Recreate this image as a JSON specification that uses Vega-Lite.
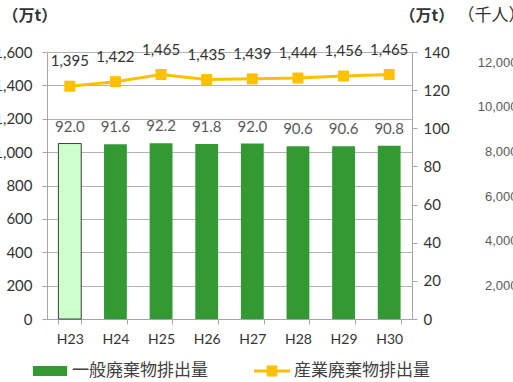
{
  "$schema": "https://vega.github.io/schema/vega-lite/v6.json",
  "autosize": "none",
  "width": 365,
  "height": 267,
  "padding": {"left": 47, "top": 52, "right": 101, "bottom": 63},
  "background": "white",
  "config": {
    "view": {"stroke": null},
    "font": "Lato",
    "axis": {"labelFont": "Lato", "labelColor": "#333333", "labelFontSize": 14, "domainColor": "#a6a6a6", "tickColor": "#a6a6a6", "gridColor": "#b3b3b3", "titleFont": "Noto Sans CJK JP", "titleFontSize": 16, "titleFontWeight": "bold", "titleColor": "#333333"}
  },
  "data": {
    "values": [
      {"year": "H23", "general": 92.0, "industrial": 1395},
      {"year": "H24", "general": 91.6, "industrial": 1422},
      {"year": "H25", "general": 92.2, "industrial": 1465},
      {"year": "H26", "general": 91.8, "industrial": 1435},
      {"year": "H27", "general": 92.0, "industrial": 1439},
      {"year": "H28", "general": 90.6, "industrial": 1444},
      {"year": "H29", "general": 90.6, "industrial": 1456},
      {"year": "H30", "general": 90.8, "industrial": 1465}
    ]
  },
  "encoding": {
    "x": {
      "field": "year", "type": "nominal", "sort": null,
      "scale": {"paddingInner": 0.5, "paddingOuter": 0.25},
      "axis": {"title": null, "labelAngle": 0, "tickBand": "extent", "tickSize": 5, "labelPadding": 8, "domainColor": "#a6a6a6"}
    }
  },
  "layer": [
    {
      "encoding": {
        "y": {
          "field": "general", "type": "quantitative",
          "scale": {"domain": [0, 140], "nice": false},
          "axis": {"orient": "right", "values": [0, 20, 40, 60, 80, 100, 120, 140], "grid": false, "tickSize": 5, "labelPadding": 6, "labelFontSize": 15, "title": "（万t）", "titleAngle": 0, "titleX": -13, "titleY": -37, "titleAlign": "left", "titleBaseline": "middle"}
        }
      },
      "layer": [
        {
          "mark": {"type": "bar"},
          "encoding": {
            "color": {"datum": "一般廃棄物排出量", "type": "nominal",
              "scale": {"domain": ["一般廃棄物排出量", "産業廃棄物排出量"], "range": ["#339933", "#ffc000"]},
              "legend": {
                "title": null, "orient": "none", "legendX": -6, "legendY": 310, "direction": "horizontal",
                "symbolSize": 324, "labelOffset": 13, "columnPadding": 46,
                "labelFont": "Noto Sans CJK JP", "labelFontSize": 17, "labelColor": "#404040",
                "symbolStrokeWidth": 0,
                "encode": {
                  "symbols": {"update": {
                    "shape": {"signal": "datum.value === '一般廃棄物排出量' ? 'M-1.9,-0.55H1.9V0.55H-1.9Z' : 'M-2,-0.17H2V0.17H-2Z M-0.6,-0.6H0.6V0.6H-0.6Z'"},
                    "fill": {"signal": "datum.value === '一般廃棄物排出量' ? '#339933' : '#ffc000'"},
                    "opacity": {"value": 1},
                    "strokeWidth": {"value": 0}
                  }}
                }
              }
            }
          }
        },
        {
          "transform": [{"filter": "datum.year === 'H23'"}],
          "mark": {"type": "bar", "fill": "#ccffcc", "stroke": "#404040", "strokeWidth": 1}
        },
        {
          "mark": {"type": "text", "dy": -17, "fontSize": 15, "color": "#595959", "font": "Lato"},
          "encoding": {"text": {"field": "general", "type": "quantitative", "format": ".1f"}}
        }
      ]
    },
    {
      "encoding": {
        "y": {
          "field": "industrial", "type": "quantitative",
          "scale": {"domain": [0, 1600], "nice": false},
          "axis": {"orient": "left", "values": [0, 200, 400, 600, 800, 1000, 1200, 1400, 1600], "format": ",.0f", "grid": true, "tickSize": 5, "labelPadding": 10, "labelFontSize": 15, "title": "（万t）", "titleAngle": 0, "titleX": -45, "titleY": -37, "titleAlign": "left", "titleBaseline": "middle"}
        }
      },
      "layer": [
        {
          "mark": {"type": "line", "strokeWidth": 3},
          "encoding": {"color": {"datum": "産業廃棄物排出量", "type": "nominal"}}
        },
        {
          "mark": {"type": "point", "shape": "square", "filled": true, "size": 121, "opacity": 1},
          "encoding": {"color": {"datum": "産業廃棄物排出量", "type": "nominal"}}
        },
        {
          "mark": {"type": "text", "dy": -25, "fontSize": 15, "color": "#333333", "font": "Lato"},
          "encoding": {"text": {"field": "industrial", "type": "quantitative", "format": ","}}
        }
      ]
    },
    {
      "data": {"values": []},
      "mark": {"type": "point"},
      "encoding": {
        "y": {
          "field": "population", "type": "quantitative",
          "scale": {"domain": [493, 12448], "nice": false, "zero": false},
          "axis": {"orient": "right", "offset": 60, "values": [2000, 4000, 6000, 8000, 10000, 12000], "format": ",.0f", "grid": false, "domain": false, "ticks": false, "tickSize": 0, "labelPadding": 45, "labelAlign": "right", "labelFont": "Liberation Sans", "labelFontSize": 13, "labelColor": "#595959", "title": "（千人）", "titleAngle": 0, "titleX": -15, "titleY": -37, "titleAlign": "left", "titleBaseline": "middle", "titleFontSize": 17, "titleFontWeight": "normal"}
        }
      }
    }
  ],
  "resolve": {"scale": {"y": "independent"}, "axis": {"y": "independent"}}
}
